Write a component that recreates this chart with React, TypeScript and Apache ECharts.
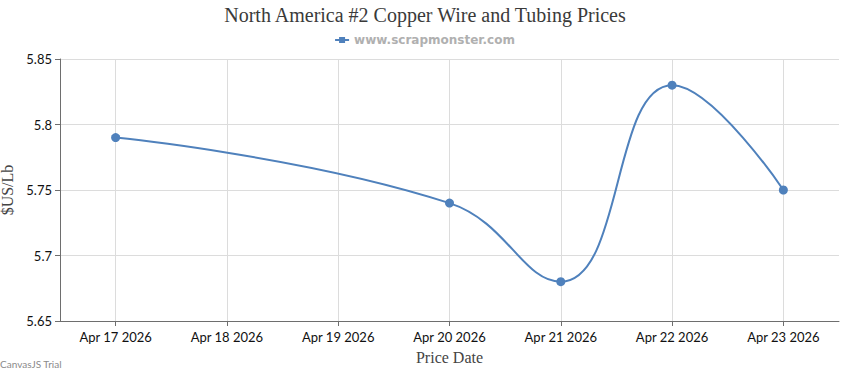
import React, { useEffect, useRef } from "react";
import * as echarts from "echarts";

const titleText = "North America #2 Copper Wire and Tubing Prices";
const seriesName = "www.scrapmonster.com";
const priceDates = ["2026-04-17", "2026-04-20", "2026-04-21", "2026-04-22", "2026-04-23"];
const priceValues = [5.79, 5.74, 5.68, 5.83, 5.75];
const tickDates = ["2026-04-17", "2026-04-18", "2026-04-19", "2026-04-20", "2026-04-21", "2026-04-22", "2026-04-23"];
const monthNames = ["Jan", "Feb", "Mar", "Apr", "May", "Jun", "Jul", "Aug", "Sep", "Oct", "Nov", "Dec"];
const yMin = 5.65;
const yMax = 5.85;
const yStep = 0.05;

const DAY = 86400000;
function dayNum(s: string): number {
  const [y, m, d] = s.split("-").map(Number);
  return Math.round(Date.UTC(y, m - 1, d) / DAY);
}
function dayLabel(n: number): string {
  const d = new Date(Math.round(n) * DAY);
  return monthNames[d.getUTCMonth()] + " " + d.getUTCDate() + " " + d.getUTCFullYear();
}

export default function App() {
  const ref = useRef<HTMLDivElement>(null);
  useEffect(() => {
    if (!ref.current) return;
    const chart = echarts.init(ref.current, undefined, { renderer: "svg" });
    const lineColor = "#4F81BC";
    const ticks = tickDates.map(dayNum);
    chart.setOption({
      animation: false,
      title: {
        text: titleText,
        left: "center",
        top: 0,
        textStyle: {
          fontFamily: "Liberation Serif",
          fontSize: 20,
          fontWeight: "normal",
          color: "#3A3A3A",
        },
      },
      legend: {
        top: 29,
        left: "center",
        itemWidth: 14,
        itemHeight: 6,
        itemGap: 5,
        icon: "path://M0,2H4V0H10V2H14V4H10V6H4V4H0Z",
        textStyle: {
          fontFamily: "DejaVu Sans",
          fontWeight: "bold",
          fontSize: 12,
          color: "#B0B0B0",
        },
        data: [seriesName],
      },
      grid: { left: 60, right: 11, top: 59, bottom: 49, containLabel: false, outerBoundsMode: "none" },
      xAxis: {
        type: "value",
        min: ticks[0] - 0.5,
        max: ticks[ticks.length - 1] + 0.5,
        name: "Price Date",
        nameLocation: "middle",
        nameGap: 28,
        nameTextStyle: { fontFamily: "Liberation Serif", fontSize: 16, color: "#444" },
        axisLine: { show: true, lineStyle: { color: "#6E6E6E", width: 1 } },
        axisTick: { show: true, length: 5, lineStyle: { color: "#6E6E6E" }, customValues: ticks },
        splitLine: { show: true, lineStyle: { color: "#DCDCDC", width: 1 } },
        axisLabel: {
          fontFamily: "Lato",
          fontSize: 13,
          color: "#111",
          margin: 9,
          customValues: ticks,
          formatter: (v: number) => dayLabel(v),
        },
      },
      yAxis: {
        type: "value",
        min: yMin,
        max: yMax,
        interval: yStep,
        name: "$US/Lb",
        nameLocation: "middle",
        nameGap: 41,
        nameTextStyle: { fontFamily: "Liberation Serif", fontSize: 16, color: "#444" },
        axisLine: { show: true, lineStyle: { color: "#6E6E6E", width: 1 } },
        axisTick: { show: true, length: 5, lineStyle: { color: "#6E6E6E" } },
        splitLine: { show: true, lineStyle: { color: "#DCDCDC", width: 1 } },
        axisLabel: {
          fontFamily: "Lato",
          fontSize: 13,
          color: "#111",
          margin: 8,
          formatter: (v: number) => String(+v.toFixed(2)),
        },
      },
      series: [
        {
          name: seriesName,
          type: "line",
          smooth: 0.45,
          data: priceDates.map((d, i) => [dayNum(d), priceValues[i]]),
          symbol: "circle",
          symbolSize: 9,
          lineStyle: { color: lineColor, width: 2 },
          itemStyle: { color: lineColor },
        },
      ],
      graphic: [
        {
          type: "text",
          left: 0,
          top: 359,
          style: { text: "CanvasJS Trial", fontFamily: "Lato", fontSize: 10, fill: "#8A8A8A" },
        },
      ],
    });
    return () => chart.dispose();
  }, []);
  return <div ref={ref} style={{ width: 850, height: 370, position: "absolute", left: 0, top: 0 }} />;
}
